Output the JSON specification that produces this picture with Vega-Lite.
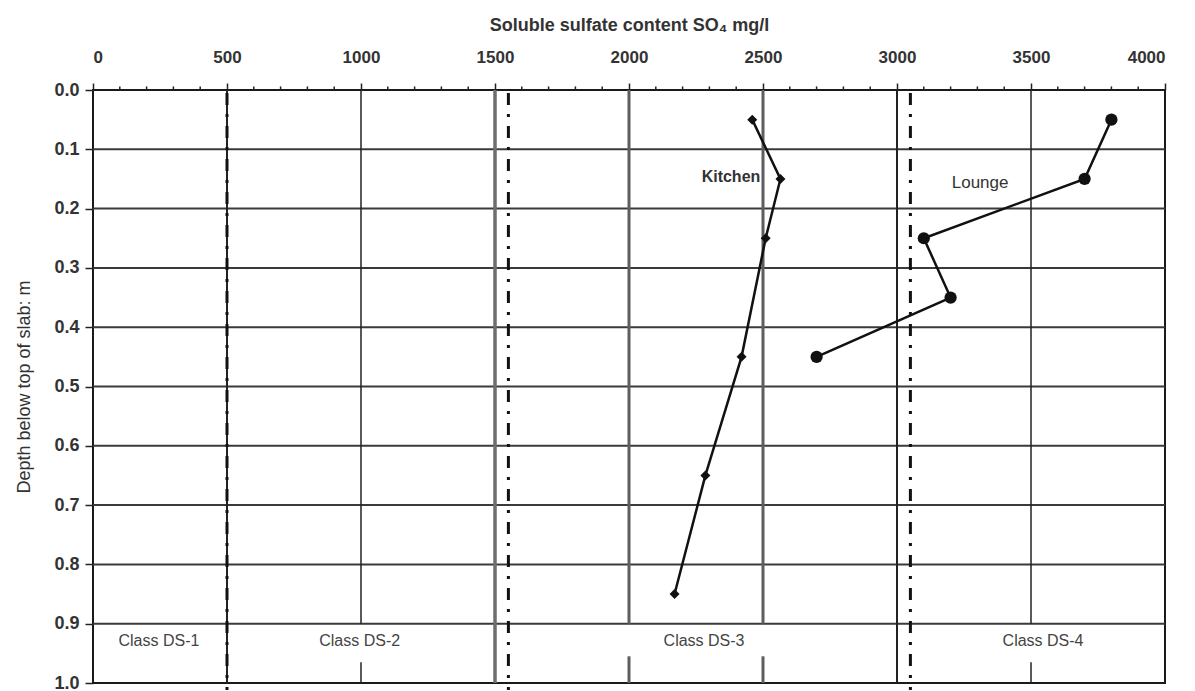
{
  "$schema": "https://vega.github.io/schema/vega-lite/v6.json",
  "width": 1072,
  "height": 593,
  "autosize": {"type": "none"},
  "padding": {"left": 93, "top": 90, "right": 30, "bottom": 8},
  "background": "white",
  "config": {
    "view": {"stroke": "#1a1a1a", "strokeWidth": 2},
    "axis": {
      "labelFont": "Liberation Sans",
      "titleFont": "Liberation Sans",
      "labelColor": "#333",
      "titleColor": "#333",
      "domain": false,
      "grid": false,
      "tickColor": "#222",
      "tickWidth": 1.5
    },
    "text": {"font": "Liberation Sans"}
  },
  "datasets": {
    "series": [
      {"room": "Kitchen", "so4": 2460, "depth": 0.05},
      {"room": "Kitchen", "so4": 2565, "depth": 0.15},
      {"room": "Kitchen", "so4": 2510, "depth": 0.25},
      {"room": "Kitchen", "so4": 2420, "depth": 0.45},
      {"room": "Kitchen", "so4": 2285, "depth": 0.65},
      {"room": "Kitchen", "so4": 2170, "depth": 0.85},
      {"room": "Lounge", "so4": 3800, "depth": 0.05},
      {"room": "Lounge", "so4": 3700, "depth": 0.15},
      {"room": "Lounge", "so4": 3100, "depth": 0.25},
      {"room": "Lounge", "so4": 3200, "depth": 0.35},
      {"room": "Lounge", "so4": 2700, "depth": 0.45}
    ],
    "hgrid": [
      {"depth": 0.1}, {"depth": 0.2}, {"depth": 0.3}, {"depth": 0.4}, {"depth": 0.5},
      {"depth": 0.6}, {"depth": 0.7}, {"depth": 0.8}, {"depth": 0.9}
    ],
    "minorTicks": [
      {"so4": 100}, {"so4": 200}, {"so4": 300}, {"so4": 400},
      {"so4": 600}, {"so4": 700}, {"so4": 800}, {"so4": 900},
      {"so4": 1100}, {"so4": 1200}, {"so4": 1300}, {"so4": 1400},
      {"so4": 1600}, {"so4": 1700}, {"so4": 1800}, {"so4": 1900},
      {"so4": 2100}, {"so4": 2200}, {"so4": 2300}, {"so4": 2400},
      {"so4": 2600}, {"so4": 2700}, {"so4": 2800}, {"so4": 2900},
      {"so4": 3100}, {"so4": 3200}, {"so4": 3300}, {"so4": 3400},
      {"so4": 3600}, {"so4": 3700}, {"so4": 3800}, {"so4": 3900}
    ],
    "vFullDark": [{"so4": 500}, {"so4": 3000}],
    "vFullGray": [{"so4": 1500}],
    "vPartDark": [{"so4": 1000}, {"so4": 3500}],
    "vPartGray": [{"so4": 2000}, {"so4": 2500}],
    "limits": [{"so4": 500}, {"so4": 1550}, {"so4": 3050}],
    "roomLabels": [
      {"label": "Kitchen", "so4": 2490, "depth": 0.147},
      {"label": "Lounge", "so4": 3310, "depth": 0.157}
    ],
    "classes": [
      {"label": "Class DS-1", "so4": 246, "depth": 0.93},
      {"label": "Class DS-2", "so4": 995, "depth": 0.93},
      {"label": "Class DS-3", "so4": 2280, "depth": 0.93},
      {"label": "Class DS-4", "so4": 3545, "depth": 0.93}
    ]
  },
  "layer": [
    {
      "data": {"name": "hgrid"},
      "mark": {"type": "rule", "color": "#3a3a3a", "strokeWidth": 2},
      "encoding": {
        "y": {"field": "depth", "type": "quantitative", "scale": {"domain": [0, 1], "reverse": true, "nice": false, "zero": false},
          "axis": {"title": "Depth below top of slab: m", "orient": "left", "values": [0, 0.1, 0.2, 0.3, 0.4, 0.5, 0.6, 0.7, 0.8, 0.9, 1.0], "format": ".1f", "labelFontSize": 18, "labelFontWeight": "bold", "tickSize": 8, "labelPadding": 6, "titleFontSize": 18, "titleFontWeight": "normal", "titlePadding": 20}},
        "x": {"datum": 0, "type": "quantitative", "scale": {"domain": [0, 4000], "nice": false, "zero": false},
          "axis": {"title": "Soluble sulfate content SO₄ mg/l", "orient": "top",
            "values": [0, 500, 1000, 1500, 2000, 2500, 3000, 3500, 4000],
            "format": "d",
            "tickSize": 7,
            "labelFontSize": 17, "labelFontWeight": "bold", "labelPadding": 17,
            "titleFontSize": 18, "titleFontWeight": "bold", "titlePadding": 14}},
        "x2": {"datum": 4000}
      }
    },
    {
      "data": {"name": "minorTicks"},
      "mark": {"type": "rule", "color": "#222", "strokeWidth": 1.5, "clip": false},
      "encoding": {
        "x": {"field": "so4", "type": "quantitative"},
        "y": {"datum": -0.006, "type": "quantitative"},
        "y2": {"datum": 0}
      }
    },
    {
      "data": {"name": "vFullDark"},
      "mark": {"type": "rule", "color": "#222", "strokeWidth": 2},
      "encoding": {
        "x": {"field": "so4", "type": "quantitative"},
        "y": {"datum": 0, "type": "quantitative"},
        "y2": {"datum": 1}
      }
    },
    {
      "data": {"name": "vFullGray"},
      "mark": {"type": "rule", "color": "#6e6e6e", "strokeWidth": 3.5},
      "encoding": {
        "x": {"field": "so4", "type": "quantitative"},
        "y": {"datum": 0, "type": "quantitative"},
        "y2": {"datum": 1}
      }
    },
    {
      "data": {"name": "vPartDark"},
      "mark": {"type": "rule", "color": "#222", "strokeWidth": 1.5},
      "encoding": {
        "x": {"field": "so4", "type": "quantitative"},
        "y": {"datum": 0, "type": "quantitative"},
        "y2": {"datum": 0.9}
      }
    },
    {
      "data": {"name": "vPartDark"},
      "mark": {"type": "rule", "color": "#222", "strokeWidth": 1.5},
      "encoding": {
        "x": {"field": "so4", "type": "quantitative"},
        "y": {"datum": 0.965, "type": "quantitative"},
        "y2": {"datum": 1}
      }
    },
    {
      "data": {"name": "vPartGray"},
      "mark": {"type": "rule", "color": "#5e5e5e", "strokeWidth": 3},
      "encoding": {
        "x": {"field": "so4", "type": "quantitative"},
        "y": {"datum": 0, "type": "quantitative"},
        "y2": {"datum": 0.9}
      }
    },
    {
      "data": {"name": "vPartGray"},
      "mark": {"type": "rule", "color": "#5e5e5e", "strokeWidth": 3},
      "encoding": {
        "x": {"field": "so4", "type": "quantitative"},
        "y": {"datum": 0.955, "type": "quantitative"},
        "y2": {"datum": 1}
      }
    },
    {
      "data": {"name": "limits"},
      "mark": {"type": "rule", "color": "#111", "strokeWidth": 3, "strokeDash": [12, 9, 3, 9], "clip": false},
      "encoding": {
        "x": {"field": "so4", "type": "quantitative"},
        "y": {"datum": 0.005, "type": "quantitative"},
        "y2": {"datum": 1.012}
      }
    },
    {
      "data": {"name": "series"},
      "mark": {"type": "line", "color": "#111", "strokeWidth": 2.5},
      "encoding": {
        "x": {"field": "so4", "type": "quantitative"},
        "y": {"field": "depth", "type": "quantitative"},
        "detail": {"field": "room"},
        "order": {"field": "depth"}
      }
    },
    {
      "data": {"name": "series"},
      "mark": {"type": "point", "filled": true, "color": "#111", "opacity": 1},
      "encoding": {
        "x": {"field": "so4", "type": "quantitative"},
        "y": {"field": "depth", "type": "quantitative"},
        "shape": {"field": "room", "type": "nominal", "scale": {"domain": ["Kitchen", "Lounge"], "range": ["diamond", "circle"]}, "legend": null},
        "size": {"field": "room", "type": "nominal", "scale": {"domain": ["Kitchen", "Lounge"], "range": [100, 150]}, "legend": null}
      }
    },
    {
      "data": {"name": "roomLabels"},
      "transform": [{"filter": "datum.label === 'Kitchen'"}],
      "mark": {"type": "text", "align": "right", "baseline": "middle", "fontSize": 16, "fontWeight": "bold", "color": "#333", "letterSpacing": 0.4},
      "encoding": {
        "x": {"field": "so4", "type": "quantitative"},
        "y": {"field": "depth", "type": "quantitative"},
        "text": {"field": "label"}
      }
    },
    {
      "data": {"name": "roomLabels"},
      "transform": [{"filter": "datum.label === 'Lounge'"}],
      "mark": {"type": "text", "align": "center", "baseline": "middle", "fontSize": 17, "color": "#333", "letterSpacing": 1.2},
      "encoding": {
        "x": {"field": "so4", "type": "quantitative"},
        "y": {"field": "depth", "type": "quantitative"},
        "text": {"field": "label"}
      }
    },
    {
      "data": {"name": "classes"},
      "mark": {"type": "text", "align": "center", "baseline": "middle", "fontSize": 16, "color": "#444", "letterSpacing": 1.2},
      "encoding": {
        "x": {"field": "so4", "type": "quantitative"},
        "y": {"field": "depth", "type": "quantitative"},
        "text": {"field": "label"}
      }
    }
  ]
}
